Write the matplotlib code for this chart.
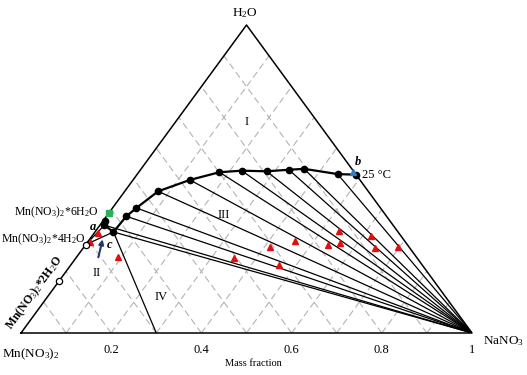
import numpy as np
import matplotlib
matplotlib.use("Agg")
import matplotlib.pyplot as plt

plt.rcParams['font.family'] = ['Liberation Serif', 'DejaVu Serif']
plt.rcParams['mathtext.fontset'] = 'custom'
plt.rcParams['mathtext.rm'] = 'Liberation Serif'
plt.rcParams['mathtext.it'] = 'Liberation Serif:italic'
plt.rcParams['mathtext.bf'] = 'Liberation Serif:bold'
plt.rcParams['mathtext.default'] = 'rm'

# --- solubility curve at 25 C (mass fractions) ---
curve_nano3 = [0.004, 0.010, 0.041, 0.044, 0.053, 0.074, 0.126, 0.179, 0.226, 0.282, 0.329, 0.361, 0.444, 0.486]
curve_h2o = [0.365, 0.350, 0.328, 0.379, 0.406, 0.460, 0.497, 0.522, 0.527, 0.525, 0.530, 0.533, 0.516, 0.514]

# liquid points that get a tie line to NaNO3
tie_nano3 = [0.010, 0.041, 0.044, 0.053, 0.074, 0.126, 0.179, 0.226, 0.282, 0.329, 0.361, 0.444]
tie_h2o = [0.350, 0.328, 0.379, 0.406, 0.460, 0.497, 0.522, 0.527, 0.525, 0.530, 0.533, 0.516]

# wet residues
wet_nano3 = [0.008, 0.004, 0.092, 0.351, 0.413, 0.462, 0.457, 0.539, 0.540, 0.561, 0.618, 0.647, 0.698]
wet_h2o = [0.324, 0.296, 0.248, 0.243, 0.278, 0.221, 0.300, 0.285, 0.331, 0.293, 0.315, 0.276, 0.278]

# hydrates on the Mn(NO3)2 - H2O side
hydrate_h2o = [0.287, 0.168]          # 4H2O, 2H2O
binary_mn_h2o = 0.390                 # Mn(NO3)2-H2O point (green)
binary_b = (0.475, 0.522)             # point b (blue)
point_c = (0.041, 0.328)
arrow_from = (0.0515, 0.237)
arrow_to = (0.026, 0.313)

ticks = [0.2, 0.4, 0.6, 0.8, 1.0]
tick_labels = ['0.2', '0.4', '0.6', '0.8', '1']


def xy(a, b):
	a = np.asarray(a, dtype=float)
	b = np.asarray(b, dtype=float)
	return a + b / 2, b


def px(x, y):
	return x / 527, 1 - y / 375


fig = plt.figure(figsize=(5.27, 3.75), dpi=100)
ax = fig.add_axes([21 / 527, 42 / 375, 451 / 527, 308 / 375])
ax.set_xlim(0, 1)
ax.set_ylim(0, 1)
ax.axis('off')

# --- grid (dashed) ---
for k in range(1, 10):
	f = k / 10
	gx, gy = xy([f, f], [0, 1 - f])
	ax.plot(gx, gy, color='#B3B3B3', lw=0.8, ls=(0, (6, 3.5)), zorder=1)
	gx, gy = xy([1 - f, 0], [0, 1 - f])
	ax.plot(gx, gy, color='#B3B3B3', lw=0.8, ls=(0, (6, 3.5)), zorder=1)

# --- triangle frame ---
tx, ty = xy([0, 1, 0, 0], [0, 0, 1, 0])
ax.plot(tx, ty, color='black', lw=1.1, zorder=2, clip_on=False)

# --- tie lines ---
for a, b in zip(tie_nano3, tie_h2o):
	lx, ly = xy([a, 1], [b, 0])
	ax.plot(lx, ly, color='black', lw=0.9, zorder=3)

# lines around point c
for a, b in [(0.010, 0.350), point_c]:
	lx, ly = xy([0, a], [hydrate_h2o[0], b])
	ax.plot(lx, ly, color='black', lw=0.9, zorder=3)
lx, ly = xy([point_c[0], 0.3], [point_c[1], 0])
ax.plot(lx, ly, color='black', lw=0.9, zorder=3)

# --- solubility curve ---
cx, cy = xy(curve_nano3, curve_h2o)
ax.plot(cx, cy, color='black', lw=1.6, marker='o', ms=4.5, zorder=5, clip_on=False)

# wet residues
wx, wy = xy(wet_nano3, wet_h2o)
ax.plot(wx, wy, ls='none', marker='^', color='#E01010', ms=5, zorder=6)

# hydrates
hx, hy = xy([0, 0], hydrate_h2o)
ax.plot(hx, hy, ls='none', marker='o', mfc='white', mec='black', mew=0.9, ms=4.5, zorder=6, clip_on=False)
gx, gy = xy([0], [binary_mn_h2o])
ax.plot(gx, gy, ls='none', marker='s', color='#2EAE5C', ms=4.5, zorder=6, clip_on=False)
bx, by = xy([binary_b[0]], [binary_b[1]])
ax.plot(bx, by, ls='none', marker='^', color='#2F7FC1', ms=4.5, zorder=7)

# arrow
s = xy(*arrow_from)
e = xy(*arrow_to)
ax.annotate('', xy=(float(e[0]), float(e[1])), xytext=(float(s[0]), float(s[1])),
	arrowprops=dict(arrowstyle='-|>', color='#1F3A6E', lw=1.5, mutation_scale=7), zorder=7)

# --- tick labels on the base ---
for t, lab in zip(ticks, tick_labels):
	fig.text(*px(21 + 451 * t, 350), lab, ha='center', va='center', fontsize=9)

# --- text ---
fig.text(*px(245, 13), r'H$_2$O', ha='center', va='center', fontsize=9.5)
fig.text(*px(2, 354), r'Mn(NO$_3$)$_2$', ha='left', va='center', fontsize=9.5)
fig.text(*px(483, 341), r'NaNO$_3$', ha='left', va='center', fontsize=9.5)
fig.text(*px(253, 363), 'Mass fraction', ha='center', va='center', fontsize=7.5)
fig.text(*px(99, 212), r'Mn(NO$_3$)$_2$*6H$_2$O', ha='right', va='center', fontsize=8.5)
fig.text(*px(86, 239), r'Mn(NO$_3$)$_2$*4H$_2$O', ha='right', va='center', fontsize=8.5)
fig.text(*px(35, 293), r'Mn(NO$_3$)$_2$*2H$_2$O', ha='center', va='center', fontsize=8.5,
	fontweight='bold', rotation=54, rotation_mode='anchor')
fig.text(*px(362, 175), '25 \u00b0C', ha='left', va='center', fontsize=9)
fig.text(*px(358, 162), 'b', ha='center', va='center', fontsize=9, fontweight='bold', style='italic')
fig.text(*px(93, 227), 'a', ha='center', va='center', fontsize=9, fontweight='bold', style='italic')
fig.text(*px(110, 245), 'c', ha='center', va='center', fontsize=9, fontweight='bold', style='italic')
fig.text(*px(247, 122), 'I', ha='center', va='center', fontsize=9)
fig.text(*px(97, 273), 'II', ha='center', va='center', fontsize=9)
fig.text(*px(224, 215), 'III', ha='center', va='center', fontsize=9)
fig.text(*px(161, 297), 'IV', ha='center', va='center', fontsize=9)

fig.savefig('out.png', dpi=100)
